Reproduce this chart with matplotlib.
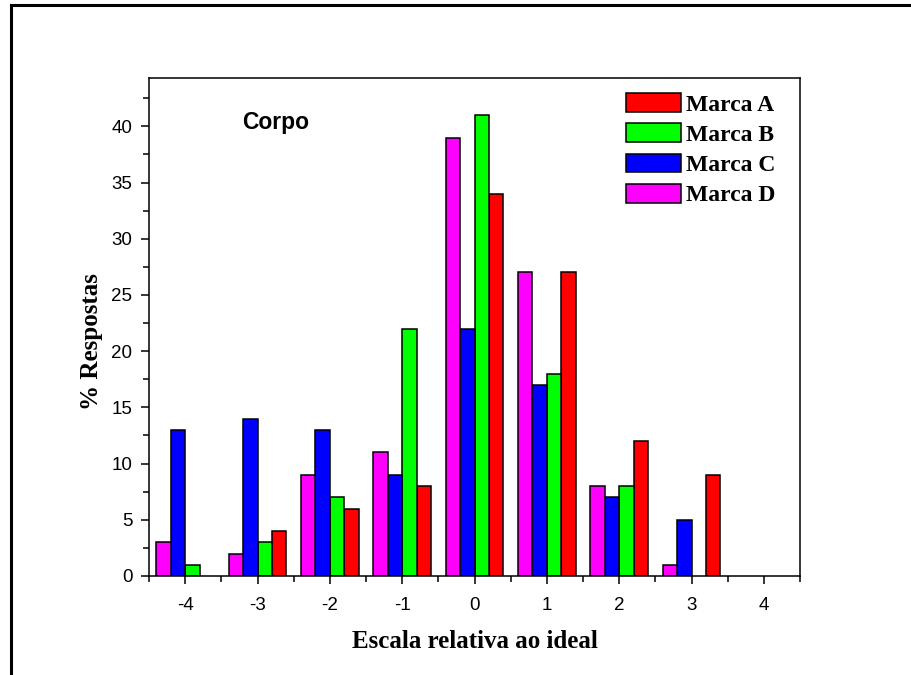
import matplotlib
matplotlib.use("Agg")
import matplotlib.pyplot as plt
import numpy as np
from matplotlib.lines import Line2D
from matplotlib.ticker import MultipleLocator

plt.rcParams["axes.unicode_minus"] = False

# scale values (-4 .. 4) and % responses per brand
escala = [-4, -3, -2, -1, 0, 1, 2, 3, 4]
marca_a = [0, 4, 6, 8, 34, 27, 12, 9, 0]
marca_b = [1, 3, 7, 22, 41, 18, 8, 0, 0]
marca_c = [13, 14, 13, 9, 22, 17, 7, 5, 0]
marca_d = [3, 2, 9, 11, 39, 27, 8, 1, 0]

labels = ["Marca A", "Marca B", "Marca C", "Marca D"]
colors = ["#ff0000", "#00ff00", "#0000ff", "#ff00ff"]

fig = plt.figure(figsize=(9.11, 6.75), dpi=100)
ax = fig.add_axes([149 / 911, 1 - 576 / 675, 651 / 911, 498 / 675])

x = np.array(escala, dtype=float)
w = 0.2
series = [marca_a, marca_b, marca_c, marca_d]
offsets = [0.3, 0.1, -0.1, -0.3]
handles = []
for vals, off, col, lab in zip(series, offsets, colors, labels):
    v = np.array(vals, dtype=float)
    m = v > 0
    bars = ax.bar(x[m] + off, v[m], width=w, color=col, edgecolor="black",
                  linewidth=1.1, label=lab, zorder=2)
    handles.append(bars)

ax.set_xlim(-4.5, 4.5)
ax.set_ylim(0, 44.3)
ax.set_xticks(escala)
ax.xaxis.set_minor_locator(MultipleLocator(0.5))
ax.yaxis.set_major_locator(MultipleLocator(5))
ax.yaxis.set_minor_locator(MultipleLocator(2.5))
ax.tick_params(which="major", direction="out", length=6, width=1.1,
               labelsize=13.5, top=False, right=False)
ax.tick_params(axis="x", which="major", pad=9)
ax.tick_params(axis="y", which="major", pad=6)
ax.tick_params(which="minor", direction="out", length=4, width=1.1,
               top=False, right=False)
for lab in ax.get_xticklabels() + ax.get_yticklabels():
    lab.set_family("Liberation Sans")
for sp in ax.spines.values():
    sp.set_linewidth(1.1)

ax.set_xlabel("Escala relativa ao ideal", family="Liberation Serif",
              fontweight="bold", fontsize=18)
ax.xaxis.set_label_coords(0.5, -0.108)
ax.set_ylabel("% Respostas", family="Liberation Serif",
              fontweight="bold", fontsize=18)
ax.yaxis.set_label_coords(-0.071, 0.47)

ax.text(0.143, 0.91, "Corpo", transform=ax.transAxes, family="Liberation Sans",
        fontweight="bold", fontsize=16.5, ha="left", va="center")

ax.legend(handles=handles, labels=labels, loc="upper left",
          bbox_to_anchor=(0.715, 0.993), frameon=False, borderpad=0,
          handlelength=2.3, handleheight=0.85, handletextpad=0.25,
          labelspacing=0.32,
          prop={"family": "Liberation Serif", "weight": "bold", "size": 17})

# outer frame
fig.add_artist(Line2D([11 / 911, 11 / 911], [0, 1 - 4.5 / 675],
                      transform=fig.transFigure, color="black", linewidth=2.2))
fig.add_artist(Line2D([11 / 911, 1], [1 - 4.5 / 675, 1 - 4.5 / 675],
                      transform=fig.transFigure, color="black", linewidth=2.2))

fig.savefig("out.png", dpi=100)
